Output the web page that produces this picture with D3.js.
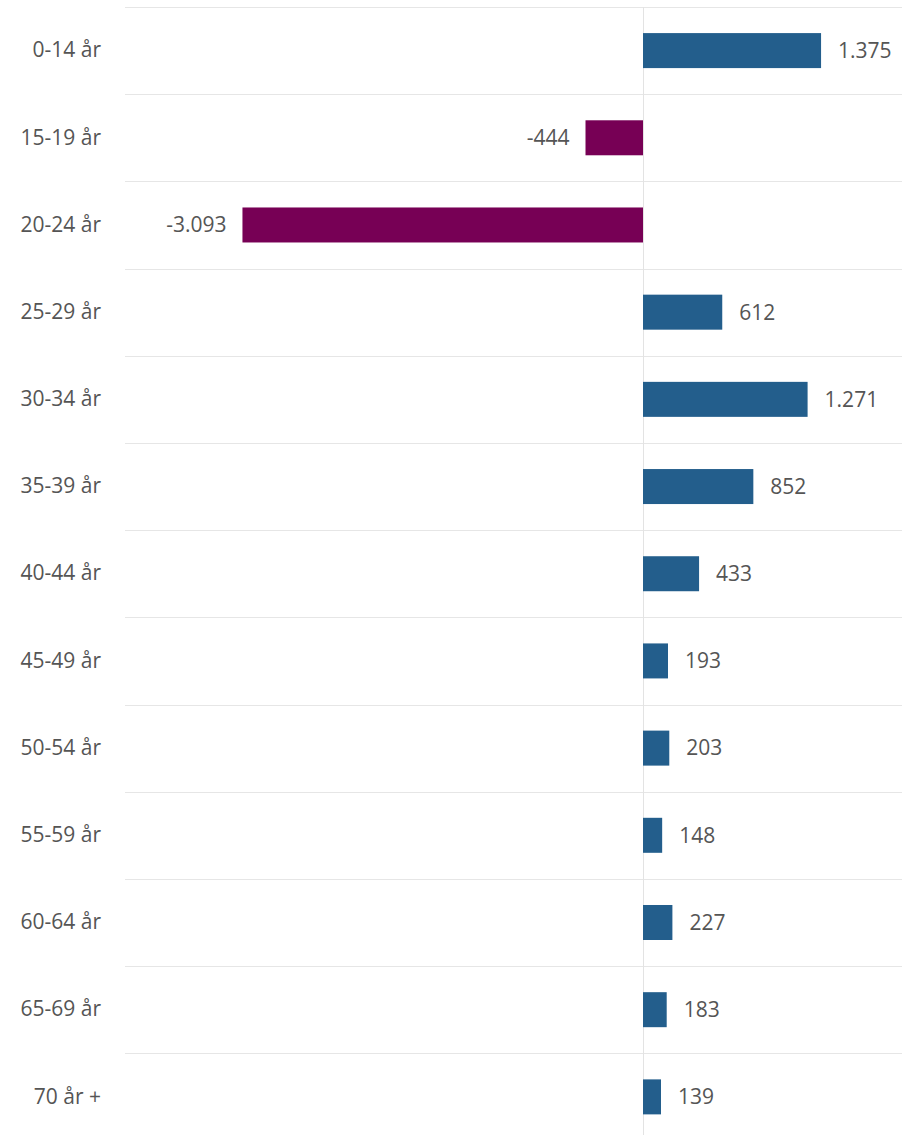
<!DOCTYPE html>
<html>
<head>
<meta charset="utf-8">
<script src="https://cdn.jsdelivr.net/npm/d3@7"></script>
<style>
  body { margin: 0; background: #fff; }
  text { font-family: "Open Sans", sans-serif; fill: #555; }
</style>
</head>
<body>
<script>
// age groups and net change
var ageGroups = ["0-14 år", "15-19 år", "20-24 år", "25-29 år", "30-34 år", "35-39 år",
                 "40-44 år", "45-49 år", "50-54 år", "55-59 år", "60-64 år", "65-69 år", "70 år +"];
var values = [1375, -444, -3093, 612, 1271, 852, 433, 193, 203, 148, 227, 183, 139];
var labels = ["1.375", "-444", "-3.093", "612", "1.271", "852", "433", "193", "203", "148", "227", "183", "139"];

var width = 908, height = 1135;
var margin = {top: 7, left: 125, right: 6};

var data = ageGroups.map(function(g, i) { return {group: g, value: values[i], label: labels[i]}; });

var svg = d3.select("body").append("svg")
    .attr("width", width)
    .attr("height", height);

var x = d3.scaleLinear()
    .domain([-4000, 2000])
    .range([margin.left, width - margin.right]);

var y = d3.scaleBand()
    .domain(ageGroups)
    .range([margin.top, margin.top + 87.19 * ageGroups.length])
    .paddingInner(0.6)
    .paddingOuter(0.3);

var step = y.step();

// row separators
svg.append("g").selectAll("line")
  .data(ageGroups)
  .enter().append("line")
    .attr("x1", margin.left)
    .attr("x2", width - margin.right)
    .attr("y1", function(d, i) { return Math.round(margin.top + i * step) + 0.5; })
    .attr("y2", function(d, i) { return Math.round(margin.top + i * step) + 0.5; })
    .attr("stroke", "#e6e6e6")
    .attr("stroke-width", 1);

// zero line
svg.append("line")
    .attr("x1", Math.round(x(0)) + 0.5)
    .attr("x2", Math.round(x(0)) + 0.5)
    .attr("y1", margin.top)
    .attr("y2", height)
    .attr("stroke", "#e3e3e3")
    .attr("stroke-width", 1);

// bars
svg.append("g").selectAll("rect")
  .data(data)
  .enter().append("rect")
    .attr("x", function(d) { return x(Math.min(0, d.value)); })
    .attr("y", function(d) { return y(d.group) + y.bandwidth() / 2 - 17.5; })
    .attr("width", function(d) { return Math.abs(x(d.value) - x(0)); })
    .attr("height", 35)
    .attr("fill", function(d) { return d.value < 0 ? "#770055" : "#235e8c"; });

// value labels
svg.append("g").selectAll("text")
  .data(data)
  .enter().append("text")
    .attr("x", function(d) { return d.value < 0 ? x(d.value) - 16 : x(d.value) + 17; })
    .attr("y", function(d) { return y(d.group) + y.bandwidth() / 2; })
    .attr("dy", "0.35em")
    .attr("text-anchor", function(d) { return d.value < 0 ? "end" : "start"; })
    .style("font-size", "21px")
    .text(function(d) { return d.label; });

// category axis
var yAxis = svg.append("g")
    .attr("transform", "translate(" + margin.left + ",0)")
    .call(d3.axisLeft(y).tickSize(0).tickPadding(24));
yAxis.select(".domain").remove();
yAxis.selectAll("text")
    .style("font-size", "21px")
    .style("font-family", "'Open Sans', sans-serif")
    .attr("fill", "#555");
</script>
</body>
</html>
